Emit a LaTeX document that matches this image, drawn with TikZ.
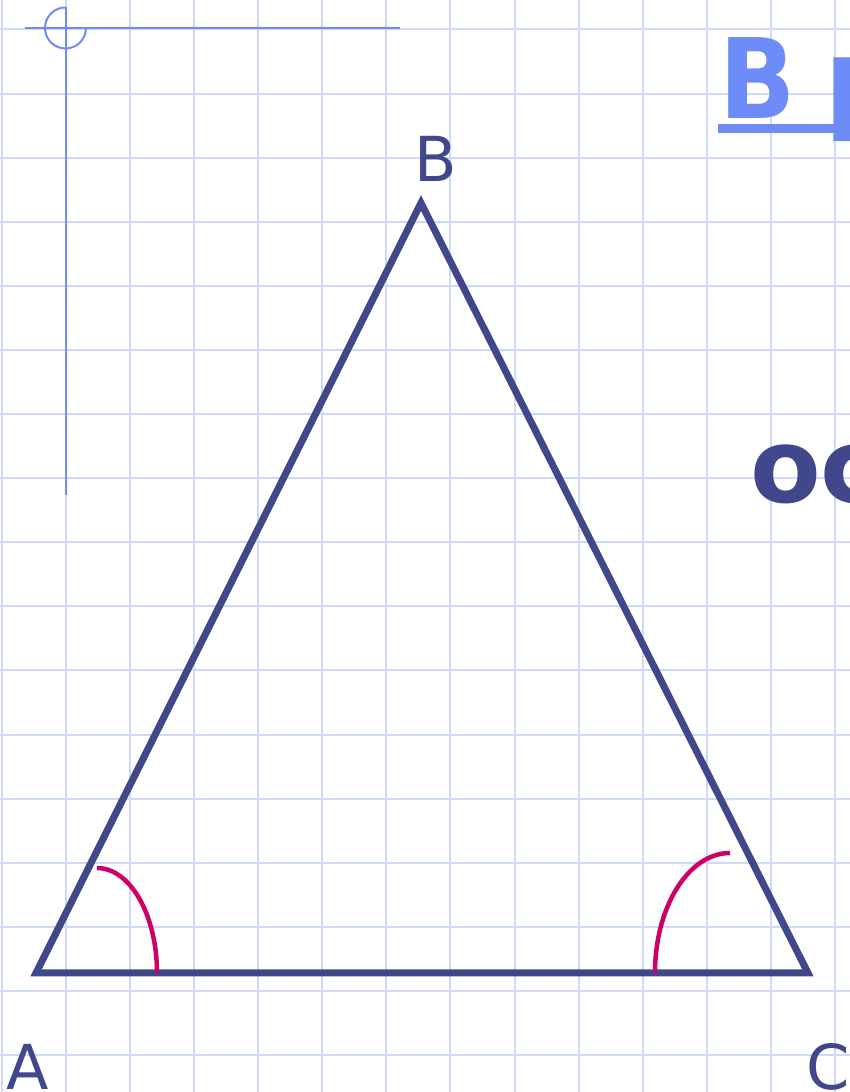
\documentclass[tikz,border=0pt]{standalone}
\usepackage{fontspec}
\setmainfont{DejaVu Sans}
\usepackage{xcolor}
\usetikzlibrary{calc}
\definecolor{gridblue}{RGB}{206,216,250}
\definecolor{titleblue}{RGB}{110,140,248}
\definecolor{tridark}{RGB}{64,71,138}
\definecolor{angred}{RGB}{204,0,102}

\begin{document}
\begin{tikzpicture}[x=1pt,y=1pt,gridline/.style={draw=gridblue,line width=2pt},frame/.style={draw=titleblue,line width=2pt},tri/.style={draw=tridark,line width=7pt},ang/.style={draw=angred,line width=4.5pt},lbl/.style={text=tridark,inner sep=0pt,font=\fontsize{62}{70}\selectfont},bigtxt/.style={inner sep=0pt,font=\fontsize{100}{110}\selectfont\bfseries}]
\useasboundingbox (0,0) rectangle (850,1092);
\clip (0,0) rectangle (850,1092);
\fill[white] (0,0) rectangle (850,1092);
% squared paper
\foreach \i in {0,...,13} \draw[gridline] (1.7+64.1*\i,0) -- ++(0,1092);
\foreach \j in {0,...,16} \draw[gridline] (0,1062.5-64.1*\j) -- ++(850,0);
% page frame
\coordinate (O) at (65.5,1064);
\coordinate (hl) at (25,1064);
\coordinate (hr) at (400,1064);
\coordinate (vt) at (65.5,1085);
\coordinate (vb) at (65.5,597);
\draw[frame] (hl)--(hr);
\draw[frame] (vt)--(vb);
\draw[frame] (O) ++(90:20.5) arc[start angle=90,end angle=360,radius=20.5];
% title
\node[bigtxt,text=titleblue,anchor=base west] (ttl) at (719,973) {\scalebox{1}[1.11]{В\kern-5pt\ р}};
\draw[titleblue,line width=9pt] ($(ttl.base west)+(-1,-9.5)$) -- ++(200,0);
\node[bigtxt,text=tridark,anchor=base west] (os) at (750,589) {\scalebox{1.03}{ос}};
% triangle
\coordinate (A) at (36,119);
\coordinate (B) at (421,889);
\coordinate (C) at (808,119);
\draw[tri] (A)--(B)--(C)--cycle;
\node[lbl,anchor=base] (la) at (28,2) {A};
\node[lbl,anchor=base] (lb) at (436,910) {B};
\node[lbl,anchor=base west] (lc) at (806,2) {C};
% equal angles
\coordinate (a1) at (97,224);
\coordinate (c1) at (730,239);
\draw[ang] (a1) arc[start angle=90,end angle=0,x radius=60,y radius=105];
\draw[ang] (c1) arc[start angle=90,end angle=180,x radius=75,y radius=120];
\end{tikzpicture}
\end{document}
